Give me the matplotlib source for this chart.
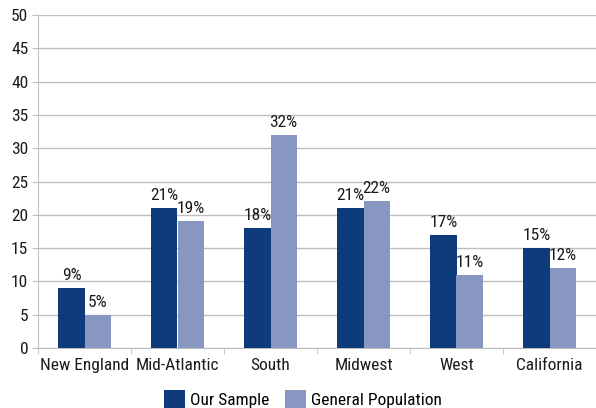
import matplotlib
matplotlib.use("Agg")
import matplotlib.pyplot as plt
import numpy as np
from matplotlib import font_manager

categories = ["New England", "Mid-Atlantic", "South", "Midwest", "West", "California"]
our_sample = [9, 21, 18, 21, 17, 15]
general_pop = [5, 19, 32, 22, 11, 12]
series_names = ["Our Sample", "General Population"]
yticks = list(range(0, 51, 5))

names = {f.name for f in font_manager.fontManager.ttflist}
cands = ["Roboto Condensed", "Liberation Sans Narrow", "Open Sans Condensed", "DejaVu Sans Condensed", "Liberation Sans"]
fam = next((c for c in cands if c in names), "DejaVu Sans")
plt.rcParams['font.family'] = [fam, 'DejaVu Sans']

dark = '#0E3B7C'
light = '#8896C2'
grid = '#BEBEBE'

fig = plt.figure(figsize=(5.96, 4.08), dpi=100)
ax = fig.add_axes([38/596, 1-348/408, 558/596, 333/408])

x = np.arange(len(categories))
w = 0.28
b1 = ax.bar(x - w/2, our_sample, w, color=dark, label=series_names[0], zorder=3)
b2 = ax.bar(x + w/2, general_pop, w, color=light, label=series_names[1], zorder=3)

fs = 12.5
for bars in (b1, b2):
    for r in bars:
        ax.text(r.get_x() + r.get_width()/2, r.get_height() + 0.75, f"{int(r.get_height())}%",
                ha='center', va='bottom', fontsize=fs, color='#1a1a1a')

ax.set_xlim(-0.5, len(categories) - 0.5)
ax.set_ylim(0, 50)
ax.set_yticks(yticks)
ax.set_yticklabels([str(t) for t in yticks], fontsize=fs, color='#1a1a1a')
ax.set_xticks(x)
ax.set_xticklabels(categories, fontsize=fs, color='#1a1a1a')
ax.tick_params(axis='x', length=0, pad=7)
ax.set_xticks(np.arange(-0.5, len(categories), 1), minor=True)
ax.tick_params(axis='x', which='minor', length=4, color=grid, direction='out')
ax.tick_params(axis='y', length=4, color=grid, pad=3)
ax.yaxis.grid(True, color=grid, linewidth=1)
ax.set_axisbelow(True)
for s in ['top', 'right']:
    ax.spines[s].set_visible(False)
for s in ['left', 'bottom']:
    ax.spines[s].set_color(grid)

ax.legend(loc='upper center', bbox_to_anchor=(0.5 - 38/558/2 + 0.009, -0.08), ncol=2, frameon=False,
          fontsize=fs, handlelength=1.2, handleheight=1.2, handletextpad=0.3, columnspacing=0.9)

fig.savefig("out.png", dpi=100)
